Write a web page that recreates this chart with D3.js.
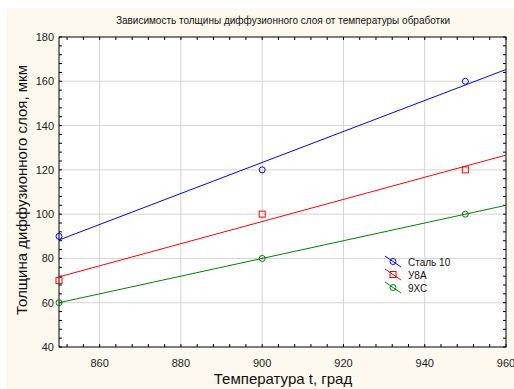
<!DOCTYPE html>
<html>
<head>
<meta charset="utf-8">
<script src="https://cdn.jsdelivr.net/npm/d3@7"></script>
<style>
  body { margin: 0; background: #fff; }
  svg { display: block; font-family: "Liberation Sans", Arial, sans-serif; }
</style>
</head>
<body>
<svg id="chart" width="514" height="389"></svg>
<script>
// data
var temps = [850, 900, 950];
var steel10 = [90, 120, 160];
var u8a = [70, 100, 120];
var x9xc = [60, 80, 100];
var seriesNames = ["Сталь 10", "У8А", "9ХС"];
var seriesColors = ["#0000ff", "#ff0000", "#008000"];
var seriesMarkers = ["circle", "square", "circle"];
var xTicks = [860, 880, 900, 920, 940, 960];
var yTicks = [40, 60, 80, 100, 120, 140, 160, 180];

var margin = {top: 37, right: 8, bottom: 42, left: 59},
    width = 506 - margin.left,
    height = 347 - margin.top;

var svg = d3.select("#chart");

// cream page background
svg.append("rect")
  .attr("x", 7).attr("y", 8)
  .attr("width", 514 - 7).attr("height", 389 - 8)
  .attr("fill", "#fdf9ee");

var g = svg.append("g")
  .attr("transform", "translate(" + margin.left + "," + margin.top + ")");

var xScale = d3.scaleLinear().domain([850, 960]).range([0, width]);
var yScale = d3.scaleLinear().domain([40, 180]).range([height, 0]);

g.append("rect")
  .attr("width", width).attr("height", height)
  .attr("fill", "#fff");

// grid
g.selectAll(".vgrid")
  .data(xTicks.filter(function(d) { return d < 960; }))
  .enter().append("line")
    .attr("x1", function(d) { return xScale(d); })
    .attr("x2", function(d) { return xScale(d); })
    .attr("y1", 0).attr("y2", height)
    .attr("stroke", "#d4d4d4");
g.selectAll(".hgrid")
  .data(yTicks.filter(function(d) { return d > 40 && d < 180; }))
  .enter().append("line")
    .attr("y1", function(d) { return yScale(d); })
    .attr("y2", function(d) { return yScale(d); })
    .attr("x1", 0).attr("x2", width)
    .attr("stroke", "#d4d4d4");

// inward ticks on all four sides, minor every 4
var xMinor = d3.range(852, 961, 4);
var yMinor = d3.range(40, 181, 4);
var tk = 3;
function tickLines(sel, cls, data, f) {
  sel.selectAll("." + cls).data(data).enter().append("line")
    .attr("class", cls).attr("stroke", "#000").attr("stroke-width", 1)
    .each(f);
}
tickLines(g, "tb", xMinor, function(d) {
  d3.select(this).attr("x1", xScale(d)).attr("x2", xScale(d)).attr("y1", height).attr("y2", height - tk);
});
tickLines(g, "tt", xMinor, function(d) {
  d3.select(this).attr("x1", xScale(d)).attr("x2", xScale(d)).attr("y1", 0).attr("y2", tk);
});
tickLines(g, "tl", yMinor, function(d) {
  d3.select(this).attr("y1", yScale(d)).attr("y2", yScale(d)).attr("x1", 0).attr("x2", tk);
});
tickLines(g, "tr", yMinor, function(d) {
  d3.select(this).attr("y1", yScale(d)).attr("y2", yScale(d)).attr("x1", width).attr("x2", width - tk);
});

g.append("rect")
  .attr("width", width).attr("height", height)
  .attr("fill", "none").attr("stroke", "#000");

// tick labels
g.selectAll(".xlab").data(xTicks).enter().append("text")
  .attr("x", function(d) { return xScale(d); })
  .attr("y", height + 20)
  .attr("text-anchor", "middle")
  .attr("font-size", 11).attr("fill", "#222")
  .text(function(d) { return d; });
g.selectAll(".ylab").data(yTicks).enter().append("text")
  .attr("x", -5)
  .attr("y", function(d) { return yScale(d) + 4; })
  .attr("text-anchor", "end")
  .attr("font-size", 11).attr("fill", "#222")
  .text(function(d) { return d; });

// titles
svg.append("text")
  .attr("x", 283).attr("y", 24)
  .attr("text-anchor", "middle").attr("font-size", 10).attr("fill", "#111")
  .text("Зависимость толщины диффузионного слоя от температуры обработки");
svg.append("text")
  .attr("x", 283).attr("y", 384)
  .attr("text-anchor", "middle").attr("font-size", 15).attr("fill", "#111")
  .text("Температура t, град");
svg.append("text")
  .attr("transform", "translate(27,190)rotate(-90)")
  .attr("text-anchor", "middle").attr("font-size", 15).attr("fill", "#111")
  .text("Толщина диффузионного слоя, мкм");

// series and least-squares lines
var allSeries = [steel10, u8a, x9xc];
var plot = g.append("g");
plot.append("clipPath").attr("id", "clip")
  .append("rect").attr("width", width).attr("height", height);

function fit(ys) {
  var mx = d3.mean(temps), my = d3.mean(ys);
  var num = d3.sum(temps, function(t, i) { return (t - mx) * (ys[i] - my); });
  var den = d3.sum(temps, function(t) { return (t - mx) * (t - mx); });
  var b = num / den;
  return function(t) { return my + b * (t - mx); };
}

function marker(sel, type, color, cx, cy) {
  if (type === "circle") {
    sel.append("circle").attr("cx", cx).attr("cy", cy).attr("r", 3)
      .attr("fill", "none").attr("stroke", color).attr("stroke-width", 1);
  } else {
    sel.append("rect").attr("x", cx - 3).attr("y", cy - 3)
      .attr("width", 6).attr("height", 6)
      .attr("fill", "none").attr("stroke", color).attr("stroke-width", 1);
  }
}

allSeries.forEach(function(ys, si) {
  var f = fit(ys);
  plot.append("line")
    .attr("x1", xScale(850)).attr("y1", yScale(f(850)))
    .attr("x2", xScale(960)).attr("y2", yScale(f(960)))
    .attr("stroke", seriesColors[si]).attr("stroke-width", 1);
  ys.forEach(function(v, i) {
    marker(plot, seriesMarkers[si], seriesColors[si], xScale(temps[i]), yScale(v));
  });
});

// legend
var leg = svg.append("g").attr("transform", "translate(385,256)");
seriesNames.forEach(function(name, i) {
  var row = leg.append("g").attr("transform", "translate(0," + (i * 13) + ")");
  row.append("line")
    .attr("x1", 0).attr("y1", 0).attr("x2", 16).attr("y2", 11)
    .attr("stroke", seriesColors[i]);
  marker(row, seriesMarkers[i], seriesColors[i], 8, 5.5);
  row.append("text")
    .attr("x", 23).attr("y", 10)
    .attr("font-size", 10).attr("fill", "#111")
    .text(name);
});
</script>
</body>
</html>
